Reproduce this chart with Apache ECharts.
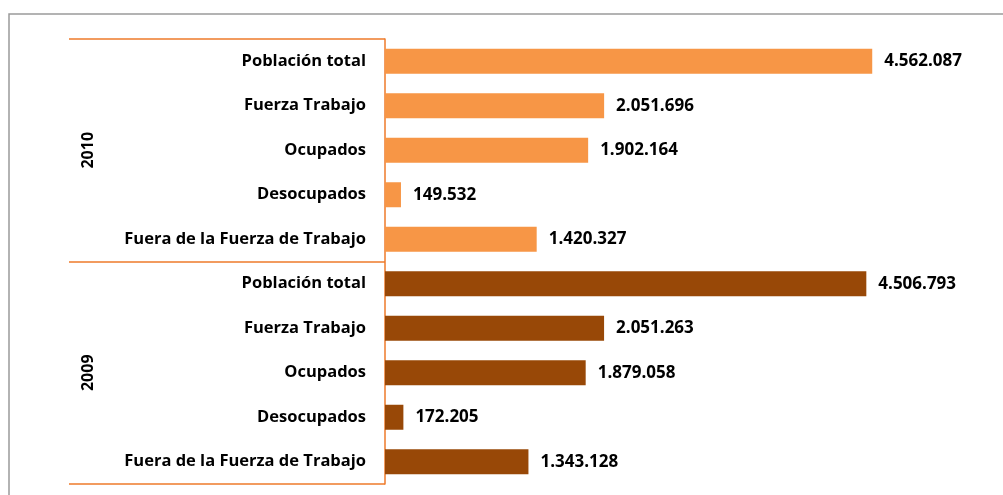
<!DOCTYPE html>
<html>
<head>
<meta charset="utf-8">
<script src="https://cdn.jsdelivr.net/npm/echarts@6/dist/echarts.min.js"></script>
<style>
  html, body { margin: 0; padding: 0; background: #fff; }
  #chart { width: 1003px; height: 495px; }
</style>
</head>
<body>
<div id="chart"></div>
<script>
// categorias (de arriba hacia abajo)
const groups = ["2010", "2009"];
const indicadores = ["Población total", "Fuerza Trabajo", "Ocupados", "Desocupados", "Fuera de la Fuerza de Trabajo"];
const valores2010 = [4562087, 2051696, 1902164, 149532, 1420327];
const valores2009 = [4506793, 2051263, 1879058, 172205, 1343128];
const colores = { "2010": "#F79646", "2009": "#984807" };

// una fila por indicador y año
const categorias = [];
const datos = [];
[valores2010, valores2009].forEach(function (vals, g) {
  vals.forEach(function (v, i) {
    categorias.push(indicadores[i]);
    datos.push({ value: v, itemStyle: { color: colores[groups[g]] } });
  });
});

function fmt(n) {
  return String(n).replace(/\B(?=(\d{3})+(?!\d))/g, ".");
}

const fuente = "Open Sans";
const naranja = "#EE7A2A";
let myChart = echarts.init(document.getElementById("chart"));
let option = {
  animation: false,
  textStyle: { fontFamily: fuente },
  graphic: [{
    type: "rect",
    shape: { x: 9, y: 14, width: 1010, height: 500 },
    style: { fill: "none", stroke: "#9a9a9a", lineWidth: 1.5 },
    silent: true
  }],
  grid: [
    { left: 385, top: 39, width: 534, height: 445 },
    { left: 69, top: 39, width: 316, height: 445 }
  ],
  xAxis: [
    { type: "value", gridIndex: 0, min: 0, max: 5000000, show: false },
    { type: "value", gridIndex: 1, min: 0, max: 1, show: false }
  ],
  yAxis: [
    {
      type: "category",
      gridIndex: 0,
      inverse: true,
      data: categorias,
      axisLine: { show: true, lineStyle: { color: naranja, width: 1.5 } },
      axisTick: { show: false },
      axisLabel: {
        margin: 19,
        color: "#000",
        fontWeight: "bold",
        fontSize: 16.5,
        fontFamily: fuente
      }
    },
    {
      type: "category",
      gridIndex: 1,
      inverse: true,
      data: groups,
      axisLine: { show: false },
      axisTick: { show: false },
      splitLine: { show: true, lineStyle: { color: naranja, width: 1.5 } },
      axisLabel: {
        inside: true,
        rotate: 90,
        margin: 11,
        color: "#000",
        fontWeight: "bold",
        fontSize: 16,
        fontFamily: fuente
      }
    }
  ],
  series: [{
    type: "bar",
    xAxisIndex: 0,
    yAxisIndex: 0,
    barWidth: 25,
    data: datos,
    label: {
      show: true,
      position: "right",
      distance: 12,
      color: "#000",
      fontWeight: "bold",
      fontSize: 17,
      fontFamily: fuente,
      formatter: function (p) { return fmt(p.value); }
    }
  }]
};
myChart.setOption(option);
</script>
</body>
</html>
